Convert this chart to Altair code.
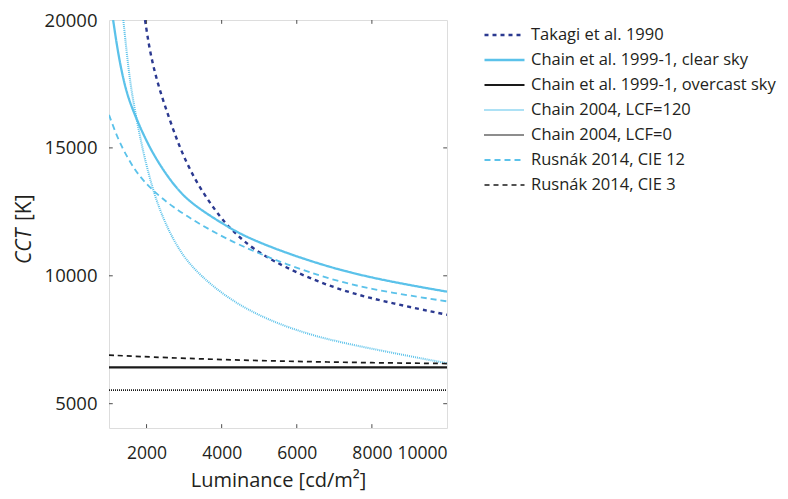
import altair as alt
import pandas as pd

# ---------------- data ----------------
series_names = [
    "Takagi et al. 1990",
    "Chain et al. 1999-1, clear sky",
    "Chain et al. 1999-1, overcast sky",
    "Chain 2004, LCF=120",
    "Chain 2004, LCF=0",
    "Rusnák 2014, CIE 12",
    "Rusnák 2014, CIE 3",
]

takagi_L = [1960, 2093, 2315, 2627, 2938, 3382, 4005, 4360, 4805, 5605, 7072, 8494, 10000]
takagi_CCT = [20000, 18700, 17400, 16050, 14793, 13490, 12188, 11667, 11080, 10370, 9454, 8934, 8477]

clear_L = [1110, 1250, 1450, 1693, 2138, 2760, 3250, 4250, 4760, 5693, 7080, 8494, 10000]
clear_CCT = [20000, 18600, 17200, 16250, 14793, 13450, 12750, 11830, 11450, 10900, 10235, 9766, 9380]

overcast_L = [1000, 10000]
overcast_CCT = [6420, 6420]

lcf120_L = [1382, 1472, 1578, 1720, 1915, 2165, 2448, 2893, 3427, 4227, 5205, 6450, 7872, 10000]
lcf120_CCT = [20000, 18700, 17400, 16220, 14790, 13360, 12190, 10890, 10000, 9050, 8282, 7630, 7176, 6580]

lcf0_L = [1000, 10000]
lcf0_CCT = [5530, 5530]

cie12_L = [1000, 1250, 1500, 1750, 2100, 2670, 3430, 4340, 5160, 5560, 7072, 8494, 10000]
cie12_CCT = [16290, 15300, 14600, 14000, 13420, 12708, 12000, 11280, 10780, 10540, 9760, 9340, 9000]

cie3_L = [1000, 2000, 4000, 6000, 8000, 10000]
cie3_CCT = [6900, 6830, 6720, 6650, 6600, 6570]

x_ticks = [2000, 4000, 6000, 8000, 10000]
y_ticks = [5000, 10000, 15000, 20000]

# ---------------- styles ----------------
colors = ["#2b3990", "#5bc2ea", "#1a1a1a", "#5bc2ea", "#1a1a1a", "#5bc2ea", "#1a1a1a"]
dashes = [[4, 4], [1, 0], [1, 0], [1, 1], [1, 1], [6, 4], [5, 4]]
widths = [2.4, 1.7, 1.7, 1.1, 1.3, 2.0, 1.7]

all_L = [takagi_L, clear_L, overcast_L, lcf120_L, lcf0_L, cie12_L, cie3_L]
all_C = [takagi_CCT, clear_CCT, overcast_CCT, lcf120_CCT, lcf0_CCT, cie12_CCT, cie3_CCT]

rows = []
for name, Ls, Cs in zip(series_names, all_L, all_C):
    for l, c in zip(Ls, Cs):
        rows.append({"series": name, "L": l, "CCT": c})
df = pd.DataFrame(rows)

X_MIN, X_MAX = 1000, 10000
Y_MIN, Y_MAX = 4050, 20000
W, H = 338, 408
FONT = "Open Sans"
TXT = "#231f20"

x_scale = alt.Scale(domain=[X_MIN, X_MAX], nice=False, zero=False)
y_scale = alt.Scale(domain=[Y_MIN, Y_MAX], nice=False, zero=False)

legend = alt.Legend(
    title=None,
    orient="none",
    legendX=374,
    legendY=5,
    symbolType="stroke",
    symbolSize=1600,
    clipHeight=20,
    labelFont=FONT,
    labelFontSize=16.5,
    labelColor=TXT,
    labelOffset=5,
    rowPadding=5,
    padding=0,
    labelLimit=400,
)

lines = alt.Chart(df).mark_line(interpolate="basis", clip=True).encode(
    x=alt.X(
        "L:Q",
        scale=x_scale,
        axis=alt.Axis(
            values=x_ticks,
            title="Luminance [cd/m²]",
            titleFont=FONT,
            titleFontSize=20,
            titleFontWeight="normal",
            titleColor=TXT,
            titleX=169,
            titleY=52,
            titleBaseline="middle",
            labelFont=FONT,
            labelFontSize=17.5,
            labelColor=TXT,
            labelPadding=16,
            tickSize=0,
            domain=False,
            grid=False,
            format="d",
        ),
    ),
    y=alt.Y(
        "CCT:Q",
        scale=y_scale,
        axis=alt.Axis(
            values=y_ticks,
            title=None,
            labelFont=FONT,
            labelFontSize=18.5,
            labelColor=TXT,
            labelPadding=12,
            tickSize=0,
            domain=False,
            grid=False,
            format="d",
        ),
    ),
    color=alt.Color("series:N", scale=alt.Scale(domain=series_names, range=colors), legend=legend),
    strokeDash=alt.StrokeDash("series:N", scale=alt.Scale(domain=series_names, range=dashes), legend=legend),
    strokeWidth=alt.StrokeWidth("series:N", scale=alt.Scale(domain=series_names, range=widths), legend=legend),
)

# inward tick marks (bottom/top and left/right)
xt = pd.DataFrame({"v": x_ticks[:-1]})
yt = pd.DataFrame({"v": y_ticks[:-1]})
tick_style = dict(color="#4d4d4d", strokeWidth=1)
x_len = 150  # in CCT units
y_len = 100  # in luminance units

xb = alt.Chart(xt).mark_rule(**tick_style).encode(
    x=alt.X("v:Q", scale=x_scale), y=alt.datum(Y_MIN), y2=alt.datum(Y_MIN + x_len))
xtp = alt.Chart(xt).mark_rule(**tick_style).encode(
    x=alt.X("v:Q", scale=x_scale), y=alt.datum(Y_MAX), y2=alt.datum(Y_MAX - x_len))
yl = alt.Chart(yt).mark_rule(**tick_style).encode(
    y=alt.Y("v:Q", scale=y_scale), x=alt.datum(X_MIN), x2=alt.datum(X_MIN + y_len))
yr = alt.Chart(yt).mark_rule(**tick_style).encode(
    y=alt.Y("v:Q", scale=y_scale), x=alt.datum(X_MAX), x2=alt.datum(X_MAX - y_len))

# y-axis title with italic "CCT"
t1 = alt.Chart(pd.DataFrame({"t": ["CCT"]})).mark_text(
    font=FONT, fontSize=21, fontStyle="italic", color=TXT, angle=270, align="left", baseline="middle"
).encode(text="t:N", x=alt.value(-84), y=alt.value(244))
t2 = alt.Chart(pd.DataFrame({"t": ["[K]"]})).mark_text(
    font=FONT, fontSize=21, color=TXT, angle=270, align="left", baseline="middle"
).encode(text="t:N", x=alt.value(-84), y=alt.value(201))

chart = alt.layer(lines, xb, xtp, yl, yr, t1, t2).properties(
    width=W,
    height=H,
    padding={"left": 101, "top": 12, "right": 333, "bottom": 63},
    autosize=alt.AutoSizeParams(type="none"),
).configure_view(stroke="#4d4d4d", strokeWidth=1.2).configure(background="white")

chart.save("out.html", embed_options={"renderer": "svg", "actions": False})
